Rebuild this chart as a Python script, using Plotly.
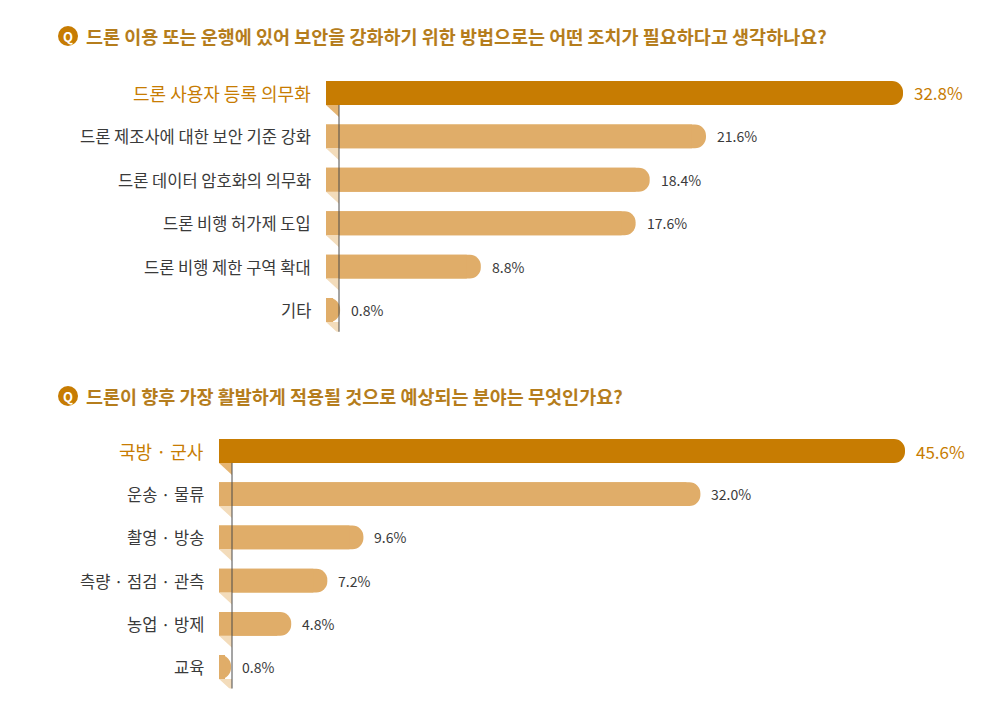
import plotly.graph_objects as go

W, H = 1000, 706
OFF = 8  # default page margin around the plot
FW, FH = W - 2 * OFF, H - 2 * OFF

q1_title = "드론 이용 또는 운행에 있어 보안을 강화하기 위한 방법으로는 어떤 조치가 필요하다고 생각하나요?"
q1_labels = ["드론 사용자 등록 의무화", "드론 제조사에 대한 보안 기준 강화", "드론 데이터 암호화의 의무화",
             "드론 비행 허가제 도입", "드론 비행 제한 구역 확대", "기타"]
q1_values = [32.8, 21.6, 18.4, 17.6, 8.8, 0.8]

q2_title = "드론이 향후 가장 활발하게 적용될 것으로 예상되는 분야는 무엇인가요?"
q2_labels = ["국방 · 군사", "운송 · 물류", "촬영 · 방송", "측량 · 점검 · 관측", "농업 · 방제", "교육"]
q2_values = [45.6, 32.0, 9.6, 7.2, 4.8, 0.8]

DARK = "#c77c02"
LIGHT = "#e0ad69"
DARK_FOLD = "#e6b572"
LIGHT_FOLD = "#f3dcbb"
TITLE_C = "#b57d1c"
TEXT_C = "#3a3a3a"
FONT = "Noto Sans CJK KR"


def px(x):
    return (x - OFF) / FW


def py(y):
    return 1 - (y - OFF) / FH


# pixel layout of each panel (window coordinates)
panels = [
    dict(title=q1_title, labels=q1_labels, values=q1_values, ax="", bar_left=326, max_end=903,
         first=93, step=43.4, title_y=36, label_right=313),
    dict(title=q2_title, labels=q2_labels, values=q2_values, ax="2", bar_left=219, max_end=905,
         first=451, step=43.2, title_y=396, label_right=206),
]

BAR_W = 0.55
RIGHT_PX = 985
FOLD_W_PX, FOLD_H_PX = 13, 12

fig = go.Figure()
shapes, annotations = [], []
layout_axes = {}

for p in panels:
    n = len(p["values"])
    vmax = max(p["values"])
    xend = vmax * (RIGHT_PX - p["bar_left"]) / (p["max_end"] - p["bar_left"])
    unit = xend / (RIGHT_PX - p["bar_left"])  # data units per px
    top = p["first"] - p["step"] / 2
    bottom = top + n * p["step"]
    xa, ya = "x" + p["ax"], "y" + p["ax"]
    idx = list(range(n))
    colors = [DARK] + [LIGHT] * (n - 1)

    # rounded bar plus a square bar covering its left corners
    fig.add_trace(go.Bar(x=p["values"], y=idx, orientation="h", width=BAR_W,
                         marker=dict(color=colors, cornerradius="50%", line=dict(width=0)),
                         xaxis=xa, yaxis=ya, hoverinfo="skip"))
    fig.add_trace(go.Bar(x=[max(v / 2, v - 14 * unit) for v in p["values"]], y=idx, orientation="h",
                         width=BAR_W, marker=dict(color=colors, line=dict(width=0)),
                         xaxis=xa, yaxis=ya, hoverinfo="skip"))

    # folded corners under each bar
    d = FOLD_W_PX * unit
    fh = FOLD_H_PX / p["step"]
    for sel, col in (([0], DARK_FOLD), (idx[1:], LIGHT_FOLD)):
        fx, fy = [], []
        for i in sel:
            b = i + BAR_W / 2
            fx += [0, d, d, 0, None]
            fy += [b, b, b + fh, b, None]
        fig.add_trace(go.Scatter(x=fx, y=fy, mode="lines", fill="toself", fillcolor=col,
                                 line=dict(width=0, color=col), xaxis=xa, yaxis=ya,
                                 hoverinfo="skip"))

    # axis line
    shapes.append(dict(type="line", xref=xa, yref=ya, x0=d, x1=d, y0=BAR_W / 2,
                       y1=n - 1 + BAR_W / 2 + fh * 1.1, line=dict(color="#4a4a4a", width=1)))

    # category labels and values
    for i, (lab, v) in enumerate(zip(p["labels"], p["values"])):
        first = i == 0
        annotations.append(dict(x=px(p["label_right"]), xref="paper", y=i, yref=ya, text=lab,
                                xanchor="right", yanchor="middle", showarrow=False,
                                font=dict(family=FONT, size=18 if first else 16.5,
                                          color=DARK if first else TEXT_C)))
        annotations.append(dict(x=v, xref=xa, y=i, yref=ya, text=f"{v:.1f}%", xshift=9,
                                xanchor="left", yanchor="middle", showarrow=False,
                                font=dict(family=FONT, size=17 if first else 14,
                                          color=DARK if first else TEXT_C)))

    # title with Q badge
    cy = py(p["title_y"])
    r = 10
    shapes.append(dict(type="circle", xref="paper", yref="paper", x0=px(68 - r), x1=px(68 + r),
                       y0=cy - r / FH, y1=cy + r / FH, fillcolor=DARK, line=dict(width=0)))
    annotations.append(dict(x=px(68), y=cy, xref="paper", yref="paper", text="<b>Q</b>",
                            showarrow=False, xanchor="center", yanchor="middle",
                            font=dict(family=FONT, size=13, color="white")))
    annotations.append(dict(x=px(84), y=cy, xref="paper", yref="paper", text=f"<b>{p['title']}</b>",
                            showarrow=False, xanchor="left", yanchor="middle",
                            font=dict(family=FONT, size=18.5, color=TITLE_C)))

    layout_axes["xaxis" + p["ax"]] = dict(domain=[px(p["bar_left"]), px(RIGHT_PX)], range=[0, xend],
                                          visible=False, fixedrange=True)
    layout_axes["yaxis" + p["ax"]] = dict(domain=[py(bottom), py(top)], range=[n - 0.5, -0.5],
                                          visible=False, fixedrange=True)

fig.update_layout(
    width=FW, height=FH,
    margin=dict(l=0, r=0, t=0, b=0),
    paper_bgcolor="white", plot_bgcolor="rgba(0,0,0,0)",
    barmode="overlay", showlegend=False,
    shapes=shapes, annotations=annotations,
    **layout_axes,
)

fig.write_html("out.html", config={"displayModeBar": False})
